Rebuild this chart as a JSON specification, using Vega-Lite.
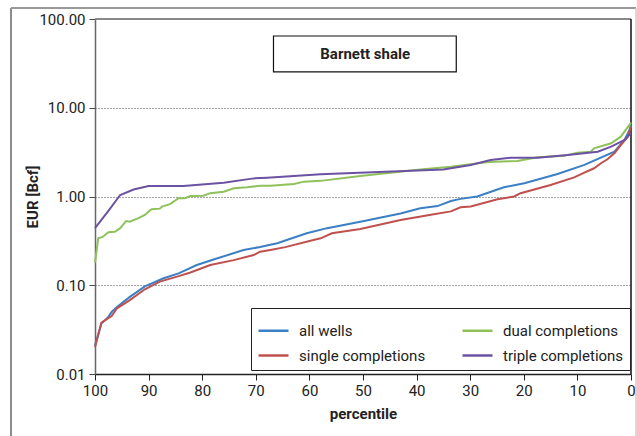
{
  "$schema": "https://vega.github.io/schema/vega-lite/v6.json",
  "autosize": {"type": "none"},
  "padding": {"left": 95, "top": 19, "right": 6, "bottom": 62},
  "width": 536,
  "height": 355,
  "background": "white",
  "data": {"values": [{}]},
  "config": {
    "view": {"stroke": null},
    "font": "Roboto",
    "axis": {"labelFont": "Roboto", "titleFont": "Roboto", "labelFontSize": 15, "titleFontSize": 15, "labelColor": "#222", "titleColor": "#222", "titleFontWeight": "bold"}
  },
  "datasets": {
    "curves": [
      {"p": 100, "eur": 0.021, "s": "all wells"},
      {"p": 98.8, "eur": 0.037, "s": "all wells"},
      {"p": 97.5, "eur": 0.044, "s": "all wells"},
      {"p": 96.9, "eur": 0.05, "s": "all wells"},
      {"p": 95.9, "eur": 0.057, "s": "all wells"},
      {"p": 93.5, "eur": 0.074, "s": "all wells"},
      {"p": 90.7, "eur": 0.097, "s": "all wells"},
      {"p": 87.2, "eur": 0.12, "s": "all wells"},
      {"p": 84.4, "eur": 0.136, "s": "all wells"},
      {"p": 81, "eur": 0.169, "s": "all wells"},
      {"p": 77.3, "eur": 0.2, "s": "all wells"},
      {"p": 72.3, "eur": 0.249, "s": "all wells"},
      {"p": 69.2, "eur": 0.27, "s": "all wells"},
      {"p": 66, "eur": 0.297, "s": "all wells"},
      {"p": 60.5, "eur": 0.385, "s": "all wells"},
      {"p": 56.7, "eur": 0.44, "s": "all wells"},
      {"p": 50.5, "eur": 0.52, "s": "all wells"},
      {"p": 43, "eur": 0.645, "s": "all wells"},
      {"p": 39.3, "eur": 0.736, "s": "all wells"},
      {"p": 36.1, "eur": 0.78, "s": "all wells"},
      {"p": 33.6, "eur": 0.89, "s": "all wells"},
      {"p": 31.8, "eur": 0.94, "s": "all wells"},
      {"p": 28.7, "eur": 1.0, "s": "all wells"},
      {"p": 23.7, "eur": 1.27, "s": "all wells"},
      {"p": 19.9, "eur": 1.41, "s": "all wells"},
      {"p": 13.7, "eur": 1.79, "s": "all wells"},
      {"p": 8.7, "eur": 2.27, "s": "all wells"},
      {"p": 3.1, "eur": 3.2, "s": "all wells"},
      {"p": 1.2, "eur": 4.33, "s": "all wells"},
      {"p": 0.3, "eur": 5.6, "s": "all wells"},
      {"p": 0, "eur": 6.4, "s": "all wells"},
      {"p": 100, "eur": 0.02, "s": "single completions"},
      {"p": 98.8, "eur": 0.038, "s": "single completions"},
      {"p": 96.9, "eur": 0.045, "s": "single completions"},
      {"p": 95.9, "eur": 0.055, "s": "single completions"},
      {"p": 93.5, "eur": 0.068, "s": "single completions"},
      {"p": 90.7, "eur": 0.09, "s": "single completions"},
      {"p": 87.9, "eur": 0.11, "s": "single completions"},
      {"p": 84.7, "eur": 0.125, "s": "single completions"},
      {"p": 82.2, "eur": 0.139, "s": "single completions"},
      {"p": 78.5, "eur": 0.169, "s": "single completions"},
      {"p": 74.1, "eur": 0.192, "s": "single completions"},
      {"p": 70.4, "eur": 0.219, "s": "single completions"},
      {"p": 69.2, "eur": 0.239, "s": "single completions"},
      {"p": 67.3, "eur": 0.25, "s": "single completions"},
      {"p": 64.5, "eur": 0.269, "s": "single completions"},
      {"p": 59.8, "eur": 0.318, "s": "single completions"},
      {"p": 57.9, "eur": 0.338, "s": "single completions"},
      {"p": 55.8, "eur": 0.385, "s": "single completions"},
      {"p": 50.5, "eur": 0.43, "s": "single completions"},
      {"p": 43, "eur": 0.543, "s": "single completions"},
      {"p": 36.8, "eur": 0.63, "s": "single completions"},
      {"p": 33.6, "eur": 0.68, "s": "single completions"},
      {"p": 31.8, "eur": 0.755, "s": "single completions"},
      {"p": 29.9, "eur": 0.77, "s": "single completions"},
      {"p": 24.9, "eur": 0.93, "s": "single completions"},
      {"p": 21.8, "eur": 1.0, "s": "single completions"},
      {"p": 20.6, "eur": 1.09, "s": "single completions"},
      {"p": 15, "eur": 1.35, "s": "single completions"},
      {"p": 10.6, "eur": 1.64, "s": "single completions"},
      {"p": 9.3, "eur": 1.79, "s": "single completions"},
      {"p": 6.9, "eur": 2.08, "s": "single completions"},
      {"p": 5.6, "eur": 2.37, "s": "single completions"},
      {"p": 4.4, "eur": 2.63, "s": "single completions"},
      {"p": 3.1, "eur": 3.07, "s": "single completions"},
      {"p": 1.9, "eur": 3.8, "s": "single completions"},
      {"p": 0.6, "eur": 4.72, "s": "single completions"},
      {"p": 0, "eur": 6.1, "s": "single completions"},
      {"p": 100, "eur": 0.18, "s": "dual completions"},
      {"p": 99.4, "eur": 0.338, "s": "dual completions"},
      {"p": 98.6, "eur": 0.35, "s": "dual completions"},
      {"p": 97.5, "eur": 0.395, "s": "dual completions"},
      {"p": 96.3, "eur": 0.4, "s": "dual completions"},
      {"p": 95.3, "eur": 0.44, "s": "dual completions"},
      {"p": 94.2, "eur": 0.53, "s": "dual completions"},
      {"p": 93.5, "eur": 0.52, "s": "dual completions"},
      {"p": 91.9, "eur": 0.57, "s": "dual completions"},
      {"p": 90.7, "eur": 0.62, "s": "dual completions"},
      {"p": 89.7, "eur": 0.7, "s": "dual completions"},
      {"p": 89.4, "eur": 0.72, "s": "dual completions"},
      {"p": 87.9, "eur": 0.73, "s": "dual completions"},
      {"p": 87.5, "eur": 0.77, "s": "dual completions"},
      {"p": 86, "eur": 0.82, "s": "dual completions"},
      {"p": 84.4, "eur": 0.955, "s": "dual completions"},
      {"p": 83.2, "eur": 0.955, "s": "dual completions"},
      {"p": 82.2, "eur": 1.01, "s": "dual completions"},
      {"p": 79.8, "eur": 1.02, "s": "dual completions"},
      {"p": 78.5, "eur": 1.09, "s": "dual completions"},
      {"p": 76, "eur": 1.13, "s": "dual completions"},
      {"p": 74.1, "eur": 1.24, "s": "dual completions"},
      {"p": 71.6, "eur": 1.27, "s": "dual completions"},
      {"p": 69.2, "eur": 1.32, "s": "dual completions"},
      {"p": 67.3, "eur": 1.32, "s": "dual completions"},
      {"p": 62.9, "eur": 1.38, "s": "dual completions"},
      {"p": 61, "eur": 1.47, "s": "dual completions"},
      {"p": 57.9, "eur": 1.5, "s": "dual completions"},
      {"p": 50.5, "eur": 1.7, "s": "dual completions"},
      {"p": 39.3, "eur": 2.02, "s": "dual completions"},
      {"p": 33.6, "eur": 2.17, "s": "dual completions"},
      {"p": 27.4, "eur": 2.41, "s": "dual completions"},
      {"p": 25.5, "eur": 2.47, "s": "dual completions"},
      {"p": 21.2, "eur": 2.51, "s": "dual completions"},
      {"p": 17.4, "eur": 2.77, "s": "dual completions"},
      {"p": 12.5, "eur": 2.87, "s": "dual completions"},
      {"p": 10, "eur": 3.12, "s": "dual completions"},
      {"p": 7.5, "eur": 3.2, "s": "dual completions"},
      {"p": 6.9, "eur": 3.49, "s": "dual completions"},
      {"p": 3.7, "eur": 3.98, "s": "dual completions"},
      {"p": 1.9, "eur": 4.72, "s": "dual completions"},
      {"p": 0.3, "eur": 6.4, "s": "dual completions"},
      {"p": 0, "eur": 6.8, "s": "dual completions"},
      {"p": 100, "eur": 0.44, "s": "triple completions"},
      {"p": 97.5, "eur": 0.69, "s": "triple completions"},
      {"p": 95.3, "eur": 1.04, "s": "triple completions"},
      {"p": 92.8, "eur": 1.2, "s": "triple completions"},
      {"p": 90, "eur": 1.31, "s": "triple completions"},
      {"p": 83.5, "eur": 1.31, "s": "triple completions"},
      {"p": 76, "eur": 1.43, "s": "triple completions"},
      {"p": 70.4, "eur": 1.6, "s": "triple completions"},
      {"p": 67.9, "eur": 1.63, "s": "triple completions"},
      {"p": 57.9, "eur": 1.78, "s": "triple completions"},
      {"p": 35, "eur": 2.02, "s": "triple completions"},
      {"p": 33.6, "eur": 2.08, "s": "triple completions"},
      {"p": 29.9, "eur": 2.26, "s": "triple completions"},
      {"p": 26.2, "eur": 2.58, "s": "triple completions"},
      {"p": 22.4, "eur": 2.74, "s": "triple completions"},
      {"p": 17.4, "eur": 2.74, "s": "triple completions"},
      {"p": 11.8, "eur": 2.94, "s": "triple completions"},
      {"p": 6.2, "eur": 3.2, "s": "triple completions"},
      {"p": 3.7, "eur": 3.64, "s": "triple completions"},
      {"p": 1.2, "eur": 4.33, "s": "triple completions"},
      {"p": 0, "eur": 5.2, "s": "triple completions"}
    ]
  },
  "layer": [
    {
      "mark": {"type": "rule", "stroke": "#666", "strokeWidth": 1.5},
      "encoding": {
        "x": {"datum": 115.67, "type": "quantitative", "scale": {"domain": [100, 0], "nice": false, "zero": false}},
        "y": {"datum": 133, "type": "quantitative", "scale": {"type": "log", "domain": [0.01, 100], "nice": false}},
        "y2": {"datum": 0.002}
      }
    },
    {
      "mark": {"type": "rule", "stroke": "#999", "strokeWidth": 2},
      "encoding": {
        "x": {"datum": 115.67, "type": "quantitative"},
        "x2": {"datum": -0.93},
        "y": {"datum": 133, "type": "quantitative"}
      }
    },
    {
      "mark": {"type": "rule", "stroke": "#ccc", "strokeWidth": 1.5},
      "encoding": {
        "x": {"datum": -0.93, "type": "quantitative"},
        "y": {"datum": 133, "type": "quantitative"},
        "y2": {"datum": 0.002}
      }
    },
    {
      "mark": {"type": "rule", "stroke": "#888", "strokeWidth": 2},
      "encoding": {
        "x": {"datum": 100, "type": "quantitative"},
        "x2": {"datum": 0},
        "y": {"datum": 100, "type": "quantitative"}
      }
    },
    {
      "mark": {"type": "rule", "stroke": "#111", "strokeWidth": 1.5},
      "encoding": {
        "x": {"datum": 0, "type": "quantitative"},
        "y": {"datum": 100, "type": "quantitative"},
        "y2": {"datum": 0.01}
      }
    },
    {
      "data": {"name": "curves"},
      "mark": {"type": "line", "strokeWidth": 2, "interpolate": "linear"},
      "encoding": {
        "x": {
          "field": "p", "type": "quantitative",
          "scale": {"domain": [100, 0], "nice": false, "zero": false},
          "axis": {"title": "percentile", "values": [100, 90, 80, 70, 60, 50, 40, 30, 20, 10, 0], "format": "d", "grid": false, "domainColor": "#222", "domainWidth": 1.5, "tickColor": "#222", "tickSize": 6, "tickWidth": 1, "labelPadding": 3, "titlePadding": 8, "labelFlush": false}
        },
        "y": {
          "field": "eur", "type": "quantitative",
          "scale": {"type": "log", "domain": [0.01, 100], "nice": false},
          "axis": {"title": "EUR [Bcf]", "values": [0.01, 0.1, 1, 10, 100], "format": ".2f", "grid": true, "gridColor": "#444", "gridDash": [1, 2], "gridWidth": 1, "domainColor": "#666", "domainWidth": 1.5, "tickColor": "#444", "tickSize": 6, "labelPadding": 4, "titleX": -63, "titleY": 177.5, "titleBaseline": "middle", "labelFlush": false}
        },
        "color": {
          "field": "s", "type": "nominal",
          "scale": {"domain": ["all wells", "dual completions", "single completions", "triple completions"], "range": ["#3b7fc4", "#8fc15a", "#c0504d", "#6b52a3"]},
          "legend": {"title": null, "orient": "none", "legendX": 156, "legendY": 289, "columns": 2, "direction": "horizontal", "strokeColor": "#222", "padding": 6, "fillColor": "white", "symbolType": "stroke", "symbolSize": 900, "symbolStrokeWidth": 2.5, "labelFontSize": 15, "labelFont": "Roboto", "labelColor": "#222", "labelOffset": 9, "rowPadding": -8.5, "columnPadding": 31, "labelLimit": 200}
        },
        "order": {"field": "p", "sort": "descending"}
      }
    },
    {
      "mark": {"type": "rect", "fill": "white", "stroke": "#111", "strokeWidth": 1.2},
      "encoding": {
        "x": {"datum": 66.7, "type": "quantitative"},
        "x2": {"datum": 32.6},
        "y": {"datum": 64.3, "type": "quantitative"},
        "y2": {"datum": 25.3}
      }
    },
    {
      "mark": {"type": "text", "text": "Barnett shale", "font": "Roboto", "fontWeight": "bold", "fontSize": 15, "color": "#222", "align": "center", "baseline": "middle"},
      "encoding": {
        "x": {"datum": 49.6, "type": "quantitative"},
        "y": {"datum": 40.4, "type": "quantitative"}
      }
    }
  ]
}
